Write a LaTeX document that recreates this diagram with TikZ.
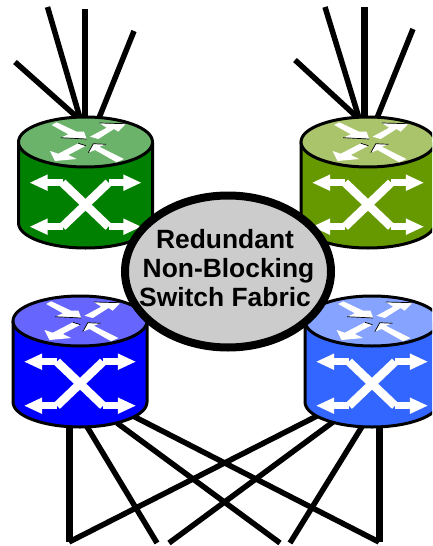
\documentclass[tikz,border=0pt]{standalone}
\usepackage{fontspec}
\setmainfont{Liberation Sans}
\usetikzlibrary{shapes.geometric}
\definecolor{greenbody}{RGB}{0,128,0}
\definecolor{greentop}{RGB}{107,179,107}
\definecolor{olivebody}{RGB}{102,153,0}
\definecolor{olivetop}{RGB}{170,196,107}
\definecolor{bluebody}{RGB}{0,0,255}
\definecolor{bluetop}{RGB}{102,102,255}
\definecolor{skybody}{RGB}{51,102,255}
\definecolor{skytop}{RGB}{133,163,255}
\newcommand\routerh{81}
\newcommand\drawrouter[2]{
  \fill[#1] (-67,0) -- (-67,\routerh) arc[start angle=180,end angle=0,x radius=67,y radius=25] -- (67,0) -- cycle;
  \draw[shell] (-67,0) -- (-67,\routerh) arc[start angle=180,end angle=0,x radius=67,y radius=25] -- (67,0);
  \draw[shell,fill=#2] (0,0) ellipse[x radius=67,y radius=25];

  % arrows on the top face
  \fill[white] (-28.8,-19.7) -- (-8.8,-10.3) -- (-1.5,-10.3) -- (1.2,-3) -- (-24.8,-4.3) -- (-17.2,-7.7) -- (-33.8,-17) -- cycle;
  \fill[white] (4.5,-5.3) -- (21.2,-14.3) -- (13.8,-19) -- (40.5,-18.3) -- (32.8,-10.3) -- (28.5,-13) -- (12.8,-3) -- cycle;
  \fill[white] (-7.2,1.3) -- (0.5,3.7) -- (-17.2,13) -- (-8.8,17) -- (-30.5,19) -- (-35.5,9) -- (-27.2,11.7) -- cycle;
  \fill[white] (7.8,1.7) -- (20.5,2.3) -- (13.8,4.7) -- (38.5,17) -- (31.2,20.3) -- (9.5,8) -- (2.8,10.7) -- cycle;

  % thin edges on the top arrows
  \draw[edge] (-24.8,-4.3) -- (1.2,-3);
  \draw[edge] (13.8,-19) -- (40.5,-18.3);
  \draw[edge] (-7.2,1.3) -- (0.5,3.7);
  \draw[edge] (2.8,10.7) -- (7.8,1.7) -- (20.5,2.3);

  % arrows on the side
  \draw[cross] (-40,40.7) -- (-23,40.7);
  \draw[cross] (-40,84.7) -- (-23,84.7);
  \draw[cross] (40,40.7) -- (23,40.7);
  \draw[cross] (40,84.7) -- (23,84.7);
  \draw[cross,line width=8.5pt] (-23,40.7) -- (23,84.7);
  \draw[cross,line width=8.5pt] (-23,84.7) -- (23,40.7);
  \fill[white] (-55.5,40.7) -- (-37.8,32.4) -- (-37.8,49) -- cycle;
  \fill[white] (55.5,40.7) -- (37.8,32.4) -- (37.8,49) -- cycle;
  \fill[white] (-55.5,84.7) -- (-37.8,76.4) -- (-37.8,93) -- cycle;
  \fill[white] (55.5,84.7) -- (37.8,76.4) -- (37.8,93) -- cycle;
}

\begin{document}
\begin{tikzpicture}[
    x=1pt,y=-1pt,
    shell/.style={draw=black,line width=3pt},
    edge/.style={black,line width=0.7pt},
    cross/.style={draw=white,line width=7pt},
    link/.style={black,line width=5.5pt},
    trunk/.style={black,line width=7pt},
    fabric/.style={draw=black,line width=8pt,ellipse,fill=black!20,inner sep=0pt,
      minimum width=206pt,minimum height=152pt},
    fabrictext/.style={align=center,inner sep=0pt,
      font=\fontsize{26.4}{28.8}\selectfont\bfseries}
  ]
    \clip (0,0) rectangle (432,546);

    % free ends at the top
    \coordinate (A1) at (15,62);
    \coordinate (A2) at (47.5,7);
    \coordinate (A3) at (85,9);
    \coordinate (A4) at (134,31);
    \coordinate (B1) at (295,60);
    \coordinate (B2) at (325,7);
    \coordinate (B3) at (364.5,7);
    \coordinate (B4) at (413,29);

    % free ends at the bottom
    \coordinate (E1) at (69,542);
    \coordinate (E2) at (157,543);
    \coordinate (E3) at (169,543);
    \coordinate (E4) at (280,543);
    \coordinate (E5) at (290,543);
    \coordinate (E6) at (379,542);

    % where the lines leave the routers
    \coordinate (G1) at (78,118);
    \coordinate (G2) at (80,118);
    \coordinate (G3) at (85,118);
    \coordinate (G4) at (99,118);
    \coordinate (H1) at (358,118);
    \coordinate (H2) at (359,118);
    \coordinate (H3) at (364.5,118);
    \coordinate (H4) at (377,118);
    \coordinate (L1) at (69,425);
    \coordinate (L2) at (86,425);
    \coordinate (L3) at (117,423);
    \coordinate (L4) at (133,416);
    \coordinate (S1) at (317,416);
    \coordinate (S2) at (333,422);
    \coordinate (S3) at (363,425);
    \coordinate (S4) at (379,425);

    \draw[link] (G1) -- (A1);
    \draw[link] (G2) -- (A2);
    \draw[trunk,line width=6pt] (G3) -- (A3);
    \draw[link] (G4) -- (A4);
    \draw[link] (H1) -- (B1);
    \draw[link] (H2) -- (B2);
    \draw[trunk] (H3) -- (B3);
    \draw[link] (H4) -- (B4);

    \draw[trunk] (L1) -- (E1);
    \draw[link] (L2) -- (E2);
    \draw[link] (L3) -- (E4);
    \draw[link] (L4) -- (E6);
    \draw[trunk] (S4) -- (E6);
    \draw[link] (S1) -- (E1);
    \draw[link] (S2) -- (E3);
    \draw[link] (S3) -- (E5);

    \begin{scope}[shift={(85.5,142)}]
      \drawrouter{greenbody}{greentop}
    \end{scope}

    \begin{scope}[shift={(368,142)}]
      \drawrouter{olivebody}{olivetop}
    \end{scope}

    \begin{scope}[shift={(80,321)}]
      \drawrouter{bluebody}{bluetop}
    \end{scope}

    \begin{scope}[shift={(372,321)}]
      \drawrouter{skybody}{skytop}
    \end{scope}

    \node[fabric] (core) at (228,271.5) {};
    \node[fabrictext] (corelabel) at (225,268) {Redundant\\\hspace{7pt}Non-Blocking\\Switch Fabric};
  \end{tikzpicture}
\end{document}
